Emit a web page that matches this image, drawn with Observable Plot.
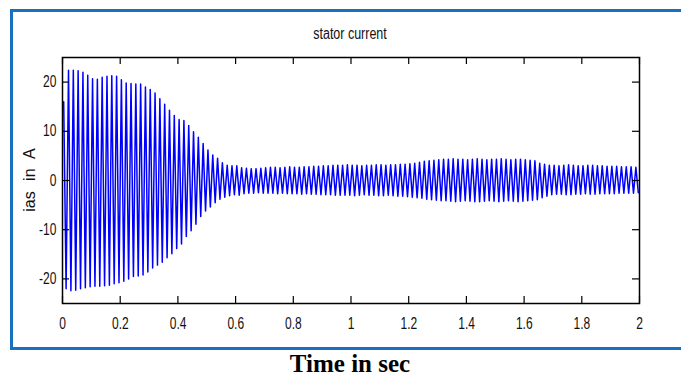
<!DOCTYPE html>
<html>
<head>
<meta charset="utf-8">
<script src="https://cdn.jsdelivr.net/npm/d3@7"></script>
<script src="https://cdn.jsdelivr.net/npm/@observablehq/plot@0.6"></script>
<style>
  body { margin: 0; background: #fff; }
  #wrap { position: relative; width: 681px; height: 380px; overflow: hidden; background: #fff; font-family: "Liberation Sans", Arial, sans-serif; }
  #frame { position: absolute; left: 10px; top: 9px; width: 720px; height: 341px; border: 3px solid #1a70c0; box-sizing: border-box; }
  #chart { position: absolute; left: 0; top: 0; }
  #title { position: absolute; left: 350px; top: 25px; font-size: 16px; color: #111; white-space: nowrap; transform: translateX(-50%) scaleX(0.78); }
  #ylabel { position: absolute; left: 30px; top: 180px; font-size: 16px; color: #111; white-space: nowrap; word-spacing: 6px; transform: translate(-50%, -50%) rotate(-90deg); }
  #xlabel { position: absolute; left: 350px; top: 350px; font-family: "Liberation Serif", "Times New Roman", serif; font-weight: bold; font-size: 25px; color: #000; white-space: nowrap; transform: translateX(-50%); }
</style>
</head>
<body>
<div id="wrap">
  <div id="frame"></div>
  <div id="chart"></div>
  <div id="title">stator current</div>
  <div id="ylabel">ias in A</div>
  <div id="xlabel">Time in sec</div>
</div>
<script>
// 60 Hz stator current: one positive and one negative peak per cycle
const period = 1 / 60;

// Positive peak of each cycle (A), cycle k starts at k/60 s
const peakPos = [
  16, 22.4, 22.4, 22.3, 22.0, 21.4, 20.7, 20.6, 21.0, 21.2,
  21.3, 21.2, 20.5, 19.8, 19.7, 19.6, 19.6, 19.0, 18.5, 17.8,
  16.6, 15.5, 14.3, 13.2, 12.4, 12.2, 11.2, 9.9, 8.8, 7.5,
  6.2, 5.2, 4.5, 3.6, 3.1, 3.0, 3.0, 2.6, 2.5, 2.4,
  2.4, 2.5, 2.6, 2.7, 2.7, 2.6, 2.7, 2.8, 2.7, 2.7,
  2.8, 2.8, 2.9, 2.9, 3.0, 3.0, 3.1, 3.1, 3.1, 3.2,
  3.1, 3.1, 3.0, 3.1, 3.1, 3.2, 3.2, 3.1, 3.2, 3.2,
  3.3, 3.3, 3.4, 3.5, 3.7, 3.9, 4.0, 4.1, 4.2, 4.3,
  4.3, 4.4, 4.3, 4.3, 4.2, 4.3, 4.4, 4.3, 4.2, 4.3,
  4.3, 4.4, 4.3, 4.2, 4.3, 4.3, 4.2, 4.1, 4.0, 3.5,
  3.3, 3.1, 3.1, 3.0, 3.1, 3.2, 3.1, 3.0, 3.0, 3.1,
  3.1, 3.0, 3.0, 2.9, 2.9, 2.9, 2.8, 2.8, 2.8, 2.7
];
// Negative peak of each cycle (A)
const peakNeg = [
  -22.0, -22.4, -22.3, -22.0, -21.8, -21.6, -21.5, -21.5, -21.4, -21.3,
  -21.0, -20.8, -20.5, -20.0, -19.5, -19.4, -19.2, -18.6, -17.8, -17.2,
  -16.6, -15.7, -14.9, -13.8, -12.9, -11.4, -10.2, -8.9, -7.3, -6.2,
  -5.4, -4.5, -3.8, -3.4, -3.1, -2.9, -3.0, -2.7, -2.6, -2.6,
  -2.5, -2.6, -2.6, -2.6, -2.7, -2.6, -2.7, -2.7, -2.7, -2.8,
  -2.7, -2.8, -2.8, -2.9, -2.9, -2.9, -3.0, -3.0, -3.0, -3.0,
  -3.1, -3.0, -2.9, -3.0, -3.0, -3.1, -3.1, -3.0, -3.1, -3.2,
  -3.2, -3.3, -3.4, -3.5, -3.6, -3.8, -3.9, -4.0, -4.1, -4.1,
  -4.2, -4.3, -4.2, -4.1, -4.2, -4.3, -4.3, -4.2, -4.1, -4.2,
  -4.3, -4.2, -4.1, -4.2, -4.3, -4.2, -4.1, -4.0, -3.9, -3.5,
  -3.2, -2.9, -2.8, -2.8, -2.9, -2.9, -2.8, -2.8, -2.7, -2.8,
  -2.8, -2.7, -2.7, -2.7, -2.7, -2.6, -2.6, -2.6, -2.6, -2.5
];

const xTicks = [0, 0.2, 0.4, 0.6, 0.8, 1, 1.2, 1.4, 1.6, 1.8, 2];
const yTicks = [-20, -10, 0, 10, 20];
const xDomain = [0, 2];
const yDomain = [-25, 25];

// Polyline through the peaks, a quarter and three quarters into each cycle
const n = Math.min(peakPos.length, peakNeg.length);
const samples = [];
for (let k = 0; k < n; k++) {
  samples.push({t: (k + 0.25) * period, i: peakPos[k]});
  samples.push({t: (k + 0.75) * period, i: peakNeg[k]});
}

const W = 681, H = 340, mL = 62, mR = 42, mT = 57, mB = 37;
const innerW = W - mL - mR, innerH = H - mT - mB;
const tick = 7;

const chart = Plot.plot({
  width: W, height: H,
  marginLeft: mL, marginRight: mR, marginTop: mT, marginBottom: mB,
  style: {background: "transparent", fontFamily: "'Liberation Sans', Arial, sans-serif", fontSize: "16px", color: "#111"},
  x: {domain: xDomain},
  y: {domain: yDomain},
  marks: [
    Plot.line(samples, {x: "t", y: "i", stroke: "#0000ff", strokeWidth: 1.5}),
    Plot.tickX(xTicks, {x: d => d, insetTop: innerH - tick, stroke: "#000", strokeWidth: 1.2}),
    Plot.tickX(xTicks, {x: d => d, insetBottom: innerH - tick, stroke: "#000", strokeWidth: 1.2}),
    Plot.tickY(yTicks, {y: d => d, insetRight: innerW - tick, stroke: "#000", strokeWidth: 1.2}),
    Plot.tickY(yTicks, {y: d => d, insetLeft: innerW - tick, stroke: "#000", strokeWidth: 1.2}),
    Plot.frame({stroke: "#000", strokeWidth: 1.5}),
    Plot.axisX(xTicks, {anchor: "bottom", tickSize: 0, tickPadding: 14, tickFormat: d => String(d), label: null}),
    Plot.axisY(yTicks, {anchor: "left", tickSize: 0, tickPadding: 5, tickFormat: d => String(d), label: null})
  ]
});
document.getElementById("chart").appendChild(chart);

// Narrow the tick label glyphs about their anchor, as in the reference figure
const svgRect = chart.getBoundingClientRect();
chart.querySelectorAll('g[aria-label*="tick label"] text').forEach(t => {
  const r = t.getBoundingClientRect();
  const anchor = getComputedStyle(t).textAnchor;
  const cx = (anchor === "end" ? r.right : anchor === "start" ? r.left : r.left + r.width / 2) - svgRect.left;
  const g = document.createElementNS("http://www.w3.org/2000/svg", "g");
  g.setAttribute("transform", `translate(${cx},0) scale(0.75,1) translate(${-cx},0)`);
  t.parentNode.insertBefore(g, t);
  g.appendChild(t);
});
</script>
</body>
</html>
